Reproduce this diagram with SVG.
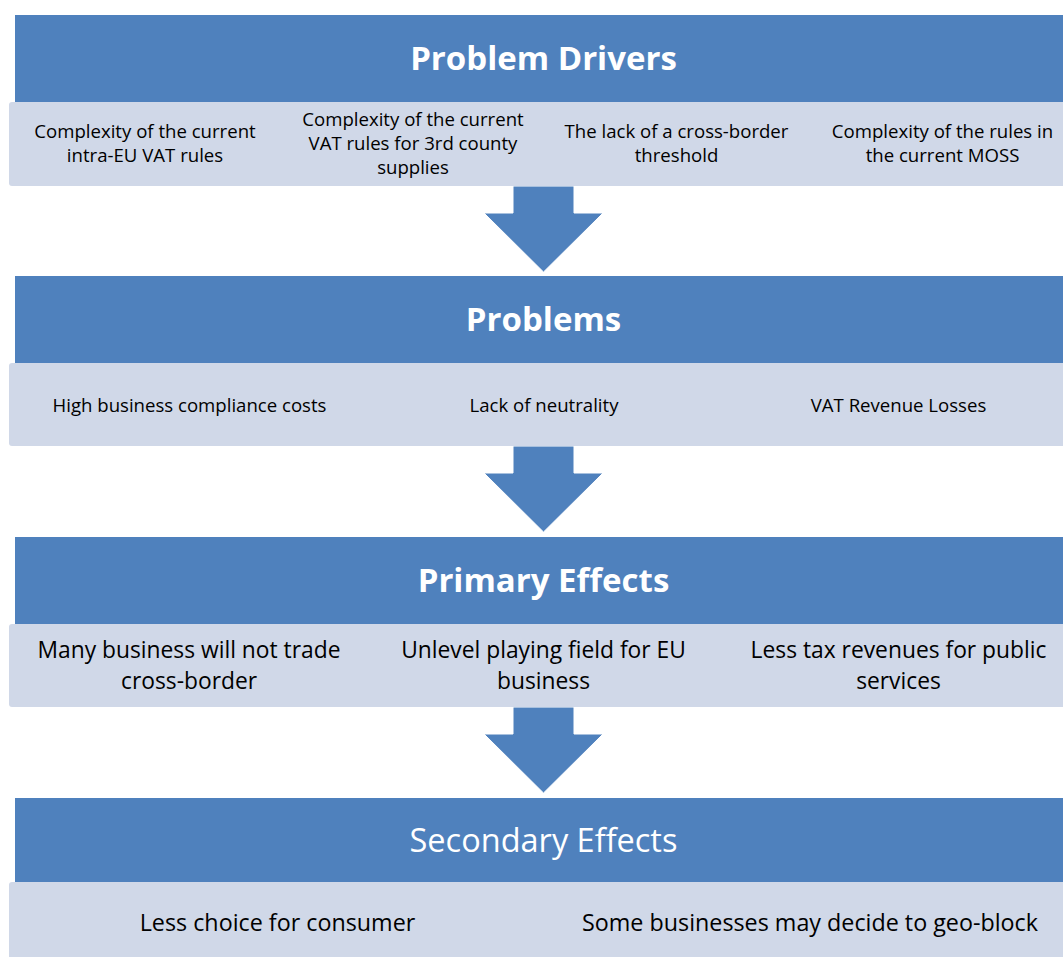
<svg xmlns="http://www.w3.org/2000/svg" width="1063" height="957" viewBox="0 0 1063 957">
<style>
.hdr{fill:#4F81BD}
.body{fill:#D0D8E8}
.arrow{fill:#4F81BD;stroke:#FFFFFF;stroke-width:1}
.title{font-family:"Open Sans","Liberation Sans",sans-serif;font-size:33px;font-weight:bold;fill:#FFFFFF;text-anchor:middle}
.title2{font-family:"Open Sans","Liberation Sans",sans-serif;font-size:32.5px;fill:#FFFFFF;text-anchor:middle}
.s{font-family:"Open Sans","Liberation Sans",sans-serif;font-size:18.6px;fill:#000000;text-anchor:middle}
.m{font-family:"Open Sans","Liberation Sans",sans-serif;font-size:23.3px;fill:#000000;text-anchor:middle}
.m2{font-family:"Open Sans","Liberation Sans",sans-serif;font-size:22.8px;fill:#000000;text-anchor:middle}
</style>
<rect width="1063" height="957" fill="#FFFFFF"/>
<g id="connectors">
<path class="arrow" d="M513,186 H574 V213 H603 L543.5,272 L484,213 H513 Z"/>
<path class="arrow" d="M513,446 H574 V473 H603 L543.5,532 L484,473 H513 Z"/>
<path class="arrow" d="M513,707 H574 V734 H603 L543.5,793 L484,734 H513 Z"/>
</g>
<g id="problem-drivers">
<rect class="hdr" x="15" y="15" width="1048" height="87"/>
<rect class="body" x="9" y="102" width="1060" height="84" rx="3"/>
<text class="title" x="543.5" y="70">Problem Drivers</text>
<text class="s" x="145" y="138">Complexity of the current</text>
<text class="s" x="145" y="162">intra-EU VAT rules</text>
<text class="s" x="413" y="126">Complexity of the current</text>
<text class="s" x="413" y="150">VAT rules for 3rd county</text>
<text class="s" x="413" y="174">supplies</text>
<text class="s" x="676.5" y="138">The lack of a cross-border</text>
<text class="s" x="676.5" y="162">threshold</text>
<text class="s" x="942.5" y="138">Complexity of the rules in</text>
<text class="s" x="942.5" y="162">the current MOSS</text>
</g>
<g id="problems">
<rect class="hdr" x="15" y="276" width="1048" height="87"/>
<rect class="body" x="9" y="363" width="1060" height="83" rx="3"/>
<text class="title" x="543.5" y="331">Problems</text>
<text class="s" x="189.5" y="411.5">High business compliance costs</text>
<text class="s" x="544" y="411.5">Lack of neutrality</text>
<text class="s" x="898.5" y="411.5">VAT Revenue Losses</text>
</g>
<g id="primary-effects">
<rect class="hdr" x="15" y="537" width="1048" height="87"/>
<rect class="body" x="9" y="624" width="1060" height="83" rx="3"/>
<text class="title" x="543.5" y="591.5">Primary Effects</text>
<text class="m2" x="189" y="658">Many business will not trade</text>
<text class="m2" x="189" y="689.2">cross-border</text>
<text class="m2" x="543.5" y="658">Unlevel playing field for EU</text>
<text class="m2" x="543.5" y="689.2">business</text>
<text class="m2" x="898.5" y="658">Less tax revenues for public</text>
<text class="m2" x="898.5" y="689.2">services</text>
</g>
<g id="secondary-effects">
<rect class="hdr" x="15" y="798" width="1048" height="84"/>
<rect class="body" x="9" y="882" width="1060" height="80" rx="3"/>
<text class="title2" x="543.5" y="851.5">Secondary Effects</text>
<text class="m" x="277.5" y="930.5">Less choice for consumer</text>
<text class="m" x="810" y="930.5">Some businesses may decide to geo-block</text>
</g>
</svg>
